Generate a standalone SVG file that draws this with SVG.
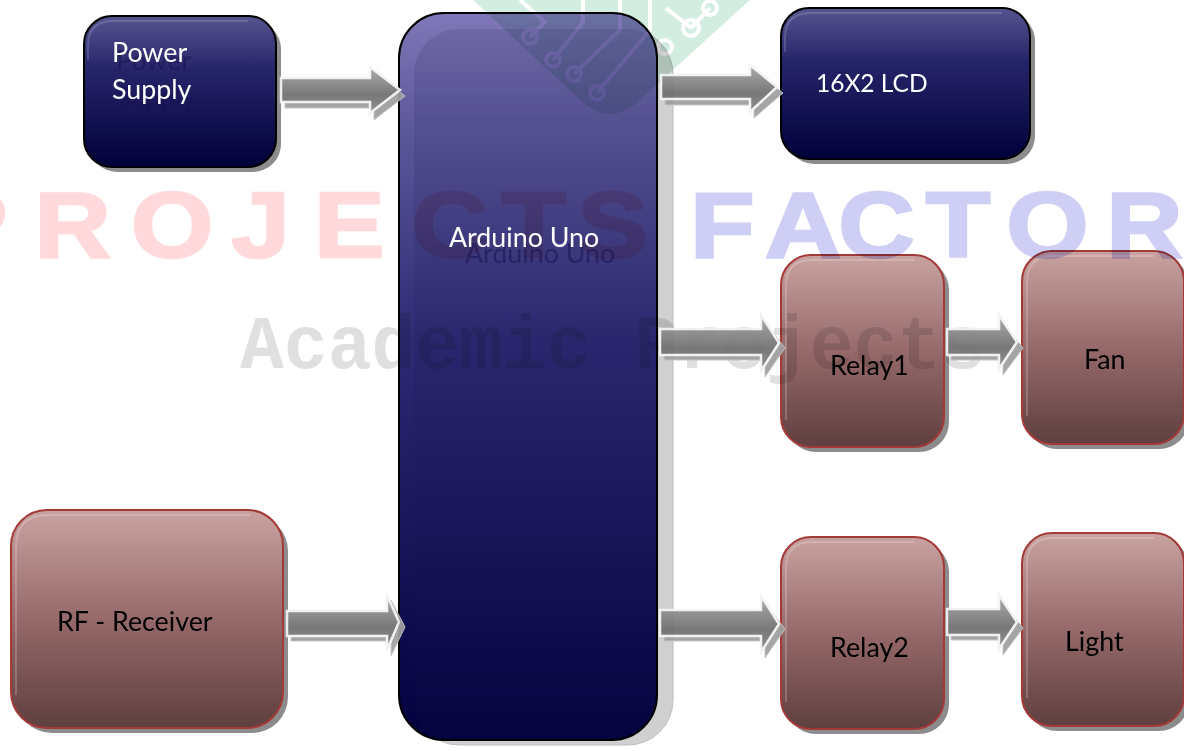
<svg xmlns="http://www.w3.org/2000/svg" width="1184" height="751" viewBox="0 0 1184 751">
<style>
.lbl{font-family:Lato,"Open Sans",sans-serif;font-size:26.8px}
.w{fill:#fff}.k{fill:#000}
.ghost{fill:#1a1250;opacity:.55}
.mul{mix-blend-mode:multiply}
.wm{font-family:"Liberation Sans",sans-serif;font-weight:bold;font-size:92px;stroke-width:2.5}
.blue{fill:url(#blueG);stroke:#000;stroke-width:2}
.blueIn{fill:none;stroke:#fff;stroke-opacity:.16;stroke-width:2}
.red{fill:url(#redG);stroke:#a33a38;stroke-width:2}
.redIn{fill:none;stroke:#fff;stroke-opacity:.2;stroke-width:2}
.sh{fill:#8c8c8c}
.ar{fill:url(#arG);stroke:#f2f2f2;stroke-width:2.5}
.as{fill:#a0a0a0;stroke:#c4c4c4;stroke-width:1}
</style>
<defs>
<linearGradient id="blueG" x1="0" y1="0" x2="0" y2="1"><stop offset="0" stop-color="#56548f"/><stop offset=".35" stop-color="#27256a"/><stop offset="1" stop-color="#00003a"/></linearGradient>
<linearGradient id="ardG" x1="0" y1="0" x2="0" y2="1"><stop offset="0" stop-color="#8078b8"/><stop offset=".15" stop-color="#5f5a9c"/><stop offset=".45" stop-color="#2e2a74"/><stop offset="1" stop-color="#02003e"/></linearGradient>
<linearGradient id="redG" x1="0" y1="0" x2="0" y2="1"><stop offset="0" stop-color="#c9a3a1"/><stop offset=".5" stop-color="#96696a"/><stop offset="1" stop-color="#5f3f3f"/></linearGradient>
<linearGradient id="arG" x1="0" y1="0" x2="0" y2="1"><stop offset="0" stop-color="#a8a8a8"/><stop offset=".6" stop-color="#707070"/><stop offset="1" stop-color="#8c8c8c"/></linearGradient>
<clipPath id="ardClip"><rect x="399" y="13" width="258" height="727" rx="45"/></clipPath>
</defs>

<g id="watermark">
<path d="M473 0L578 98Q610 130 642 98L750 0Z" fill="#d4ede1"/>
<g fill="none" stroke="#fff" stroke-width="4">
<path d="M520 0L545 22L530 37M553 60L583 22V0M574 74L620 30V0M597 93L650 30V0M666 8L691 28M691 28L710 8"/>
<circle cx="530" cy="37" r="7"/><circle cx="553" cy="60" r="7"/><circle cx="574" cy="74" r="7"/><circle cx="597" cy="93" r="7"/><circle cx="691" cy="28" r="8"/><circle cx="710" cy="8" r="7"/><circle cx="665" cy="47" r="7"/>
</g>
<text class="wm" transform="scale(1.15 1)" y="257" fill="#ffd9dc" stroke="#ffd9dc" x="-55 30 114 201 273 358 436 502">PROJECTS</text>
<text class="wm" transform="scale(1.15 1)" y="257" fill="#cfcff5" stroke="#cfcff5" x="600 665 729 805 875 962">FACTOR</text>
<text y="368" x="240" textLength="745" lengthAdjust="spacingAndGlyphs" font-family="Liberation Mono,monospace" font-weight="bold" font-size="76" fill="#e0e0e0">Academic Projects</text>
</g>

<g id="arduino">
<g class="mul">
<rect x="414" y="29" width="259" height="716" rx="45" fill="#d0d0d0" stroke="#bdbdbd" stroke-width="1"/>
<g style="isolation:isolate">
<rect x="399" y="13" width="258" height="727" rx="45" fill="url(#ardG)"/>
<rect x="414" y="29" width="259" height="716" rx="45" fill="#1a1450" fill-opacity=".13" clip-path="url(#ardClip)"/>
<rect x="399" y="13" width="258" height="727" rx="45" fill="none" stroke="#000" stroke-width="2"/>
</g>
</g>
<text class="lbl ghost" x="465" y="263">Arduino Uno</text>
<text class="lbl w" x="449" y="247">Arduino Uno</text>
</g>

<g id="power-supply">
<g class="mul">
<rect x="89" y="21" width="192" height="151" rx="28" class="sh"/>
<rect x="84" y="16" width="192" height="151" rx="28" class="blue"/>
<path d="M88 60V46Q88 21 113 21H248" class="blueIn"/>
</g>
<text class="lbl ghost" x="116" y="70">Power</text>
<text class="lbl ghost" x="116" y="107">Supply</text>
<text class="lbl w" x="112" y="62">Power</text>
<text class="lbl w" x="112" y="99">Supply</text>
</g>

<g id="lcd">
<g class="mul">
<rect x="786" y="13" width="249" height="151" rx="28" class="sh"/>
<rect x="781" y="8" width="249" height="151" rx="28" class="blue"/>
<path d="M785 52V38Q785 13 810 13H1002" class="blueIn"/>
</g>
<text class="lbl w" x="816" y="92" style="font-size:24.5px">16X2 LCD</text>
</g>

<g id="relay1">
<g class="mul">
<rect x="786" y="260" width="163" height="192" rx="30" class="sh"/>
<rect x="781" y="255" width="163" height="192" rx="30" class="red"/>
<path d="M786 420V286Q786 260 812 260H914" class="redIn"/>
</g>
<text class="lbl k" x="830" y="375">Relay1</text>
</g>

<g id="fan">
<g class="mul">
<rect x="1027" y="256" width="162" height="193" rx="30" class="sh"/>
<rect x="1022" y="251" width="162" height="193" rx="30" class="red"/>
<path d="M1027 416V282Q1027 256 1053 256H1154" class="redIn"/>
</g>
<text class="lbl k" x="1084" y="369">Fan</text>
</g>

<g id="relay2">
<g class="mul">
<rect x="786" y="542" width="163" height="192" rx="30" class="sh"/>
<rect x="781" y="537" width="163" height="192" rx="30" class="red"/>
<path d="M786 702V568Q786 542 812 542H914" class="redIn"/>
</g>
<text class="lbl k" x="830" y="657">Relay2</text>
</g>

<g id="light">
<g class="mul">
<rect x="1027" y="538" width="162" height="193" rx="30" class="sh"/>
<rect x="1022" y="533" width="162" height="193" rx="30" class="red"/>
<path d="M1027 698V564Q1027 538 1053 538H1154" class="redIn"/>
</g>
<text class="lbl k" x="1065" y="651">Light</text>
</g>

<g id="rf-receiver">
<g class="mul">
<rect x="16" y="515" width="272" height="218" rx="36" class="sh"/>
<rect x="11" y="510" width="272" height="218" rx="36" class="red"/>
<path d="M16 695V547Q16 515 48 515H250" class="redIn"/>
</g>
<text class="lbl k" x="57" y="631">RF - Receiver</text>
</g>

<g id="connectors" opacity=".94">
<g class="as">
<path d="M285 84H374V73L405 96L374 120V108H285Z"/>
<path d="M665 80H754V71L783 93L754 118V105H665Z"/>
<path d="M664 335H765V322L785 348L765 377V360H664Z"/>
<path d="M951 335H1003V322L1023 348L1003 375V360H951Z"/>
<path d="M664 616H765V603L785 629L765 658V641H664Z"/>
<path d="M951 615H1003V602L1023 628L1003 655V640H951Z"/>
<path d="M291 616H391V600L405 627L391 656V641H291Z"/>
</g>
<g class="ar">
<path d="M281 78H370V67L400 90L370 113V102H281Z"/>
<path d="M661 75H750V65L777 87L750 112V99H661Z"/>
<path d="M660 329H761V315L779 343L761 371V355H660Z"/>
<path d="M947 329H999V315L1017 342L999 369V355H947Z"/>
<path d="M660 610H761V596L779 624L761 652V636H660Z"/>
<path d="M947 609H999V595L1017 622L999 649V635H947Z"/>
<path d="M287 611H387V595L399 622L387 650V636H287Z"/>
</g>
</g>
</svg>
